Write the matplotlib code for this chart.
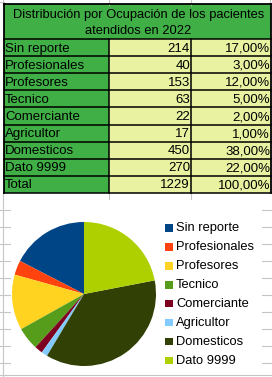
import matplotlib
matplotlib.use("Agg")
import matplotlib.pyplot as plt
from matplotlib.patches import Rectangle

plt.rcParams['font.family'] = ['Liberation Sans', 'DejaVu Sans']

# data
title_lines = ["Distribución por Ocupación de los pacientes", "atendidos en 2022"]
categories = ["Sin reporte", "Profesionales", "Profesores", "Tecnico",
              "Comerciante", "Agricultor", "Domesticos", "Dato 9999"]
counts = [214, 40, 153, 63, 22, 17, 450, 270]
percents = [17, 3, 12, 5, 2, 1, 38, 22]
total_label = "Total"
total_count = 1229
total_percent = 100

colors = ["#004586", "#ff420e", "#ffd320", "#579d1c",
          "#7e0021", "#83caff", "#314004", "#aecf00"]
green = "#3faf46"
lime = "#e8f2a1"
grid = "#c6c6c6"

W, H = 272, 377
fig = plt.figure(figsize=(W / 100, H / 100), dpi=100)
bg = fig.add_axes([0, 0, 1, 1])
bg.set_xlim(0, W)
bg.set_ylim(H, 0)
bg.axis("off")

# spreadsheet gridlines peeking around the table and chart
for x in (3, 109, 191, 270):
    bg.plot([x, x], [0, 5], color=grid, lw=0.8)
for x in (109, 191):
    bg.plot([x, x], [193, 199], color=grid, lw=0.8)
bg.plot([3, 3], [193, H], color=grid, lw=0.8)
for y in range(210, 372, 17):
    bg.plot([0, 10], [y, y], color=grid, lw=0.8)
    bg.plot([262, W], [y, y], color=grid, lw=0.8)
bg.plot([0, W], [375, 375], color=grid, lw=0.8)
bg.plot([0, 4], [2, 2], color=grid, lw=0.8)

# table
x0, x1, x2, x3 = 4, 109, 191, 271
top, head_bot = 4, 39
row_h = (193 - head_bot) / 9

bg.add_patch(Rectangle((x0, top), x3 - x0, head_bot - top, facecolor=green, edgecolor="none"))
bg.text((x0 + x3) / 2 + 1, 15, title_lines[0], ha="center", va="center", fontsize=9.3)
bg.text((x0 + x3) / 2 + 1, 31, title_lines[1], ha="center", va="center", fontsize=9.3)

labels = categories + [total_label]
cnts = counts + [total_count]
pcts = percents + [total_percent]
for i, (lab, c, p) in enumerate(zip(labels, cnts, pcts)):
    y = head_bot + i * row_h
    bg.add_patch(Rectangle((x0, y), x1 - x0, row_h, facecolor=green, edgecolor="none"))
    bg.add_patch(Rectangle((x1, y), x3 - x1, row_h, facecolor=lime, edgecolor="none"))
    yc = y + row_h / 2 + 1
    bg.text(x0 + 1, yc, lab, ha="left", va="center", fontsize=9.5)
    bg.text(x2 - 1, yc, str(c), ha="right", va="center", fontsize=9.5)
    bg.text(x3 - 1, yc, f"{p:.2f}%".replace(".", ","), ha="right", va="center", fontsize=9.5)
    bg.plot([x0, x3], [y, y], color="black", lw=1.1)

bot = head_bot + 9 * row_h
bg.plot([x0, x3], [bot, bot], color="black", lw=1.1)
bg.plot([x0, x0], [top, bot], color="black", lw=1.3)
bg.plot([x3, x3], [top, bot], color="black", lw=1.3)
bg.plot([x0, x3], [top, top], color="black", lw=1.3)
bg.plot([x1, x1], [head_bot, bot], color="black", lw=1.1)
bg.plot([x2, x2], [head_bot, bot], color="black", lw=1.1)

# pie
cx, cy, r = 84, 294, 72
pax = fig.add_axes([(cx - r) / W, (H - cy - r) / H, 2 * r / W, 2 * r / H])
pax.pie(counts, colors=colors, startangle=90, counterclock=True,
        wedgeprops=dict(linewidth=0))
pax.set_xlim(-1, 1)
pax.set_ylim(-1, 1)
pax.set_aspect("auto")

# legend
ly0, lstep = 228, 18.9
for i, (lab, col) in enumerate(zip(categories, colors)):
    y = ly0 + i * lstep
    bg.add_patch(Rectangle((165, y - 3.7), 7.5, 7.5, facecolor=col, edgecolor="none"))
    bg.text(176, y + 0.5, lab, ha="left", va="center", fontsize=9.3)

fig.savefig("out.png", dpi=100)
